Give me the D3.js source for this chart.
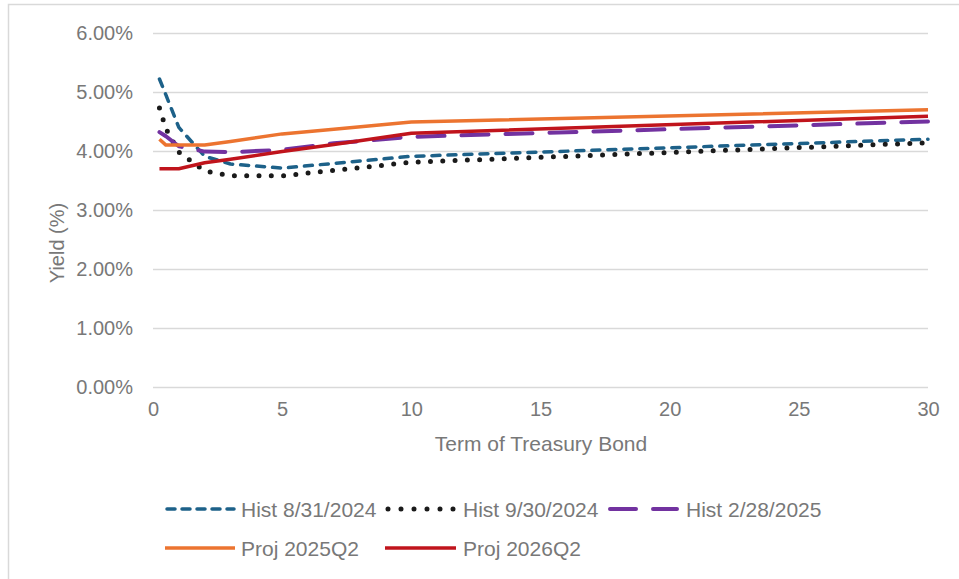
<!DOCTYPE html>
<html>
<head>
<meta charset="utf-8">
<script src="https://cdn.jsdelivr.net/npm/d3@7/dist/d3.min.js"></script>
<style>
  html, body { margin: 0; padding: 0; background: #fff; }
  svg { display: block; }
  text { font-family: "Liberation Sans", Arial, sans-serif; fill: #787878; }
</style>
</head>
<body>
<svg id="chart" width="959" height="579"></svg>
<script>
// Treasury yield curves: term in years, yield in percent
const terms = [0.25, 0.5, 1, 2, 3, 5, 7, 10, 30];
const hist20240831 = [5.22, 4.95, 4.40, 3.91, 3.78, 3.71, 3.79, 3.91, 4.20];
const hist20240930 = [4.73, 4.38, 3.98, 3.66, 3.58, 3.58, 3.67, 3.81, 4.14];
const hist20250228 = [4.32, 4.25, 4.08, 3.99, 3.98, 4.02, 4.13, 4.24, 4.50];
const proj2025Q2   = [4.20, 4.10, 4.10, 4.10, 4.16, 4.29, 4.37, 4.49, 4.70];
const proj2026Q2   = [3.70, 3.70, 3.70, 3.80, 3.86, 3.99, 4.11, 4.30, 4.59];

const seriesNames = ["Hist 8/31/2024", "Hist 9/30/2024", "Hist 2/28/2025", "Proj 2025Q2", "Proj 2026Q2"];
const yTicks = [0, 1, 2, 3, 4, 5, 6];
const xTicks = [0, 5, 10, 15, 20, 25, 30];
const xTitle = "Term of Treasury Bond";
const yTitle = "Yield (%)";

const series = [
  { name: seriesNames[0], values: hist20240831, color: "#1d6189", width: 3.5, dash: "8,8",    cap: "round" },
  { name: seriesNames[1], values: hist20240930, color: "#1a1a1a", width: 5,   dash: "0,12.3", cap: "round" },
  { name: seriesNames[2], values: hist20250228, color: "#7232a0", width: 4,   dash: "27,17",  cap: "round" },
  { name: seriesNames[3], values: proj2025Q2,   color: "#ec7430", width: 3.5, dash: null,     cap: "butt" },
  { name: seriesNames[4], values: proj2026Q2,   color: "#c0141c", width: 3.5, dash: null,     cap: "butt" }
];

const svg = d3.select("#chart");

// outer chart border
svg.append("rect")
  .attr("x", 8.5).attr("y", 4.5)
  .attr("width", 1000).attr("height", 700)
  .attr("fill", "#fff").attr("stroke", "#d9d9d9").attr("stroke-width", 1.5);

const x = d3.scaleLinear().domain([0, 30]).range([153, 928]);
const y = d3.scaleLinear().domain([0, 6]).range([387, 33]);

// horizontal gridlines
svg.append("g")
  .attr("transform", `translate(${x.range()[0]},0)`)
  .call(d3.axisLeft(y).tickValues(yTicks).tickSize(-(x.range()[1] - x.range()[0])).tickFormat(""))
  .call(g => g.select(".domain").remove())
  .call(g => g.selectAll("line").attr("stroke", "#d9d9d9").attr("stroke-width", 1.5));

// y tick labels
svg.append("g").attr("transform", `translate(${x.range()[0]},0)`)
  .call(d3.axisLeft(y).tickValues(yTicks).tickSize(0).tickPadding(20).tickFormat(d => d.toFixed(2) + "%"))
  .call(g => g.select(".domain").remove())
  .call(g => g.selectAll("text").style("font-size", "20px").attr("fill", "#787878"));

// x tick labels
svg.append("g").attr("transform", `translate(0,${y(0)})`)
  .call(d3.axisBottom(x).tickValues(xTicks).tickSize(0).tickPadding(15).tickFormat(d3.format("d")))
  .call(g => g.select(".domain").remove())
  .call(g => g.selectAll("text").style("font-size", "20px").attr("fill", "#787878"));

// axis titles
svg.append("text")
  .attr("x", 541).attr("y", 451)
  .attr("text-anchor", "middle").style("font-size", "21px")
  .text(xTitle);

svg.append("text")
  .attr("transform", `translate(64,${(y.range()[0] + y.range()[1]) / 2 + 33}) rotate(-90)`)
  .attr("text-anchor", "middle").style("font-size", "20px")
  .text(yTitle);

// curves
const line = d3.line()
  .x((d, i) => x(terms[i]))
  .y(d => y(d));

svg.append("g").selectAll("path")
  .data(series)
  .join("path")
  .attr("d", s => line(s.values))
  .attr("fill", "none")
  .attr("stroke", s => s.color)
  .attr("stroke-width", s => s.width)
  .attr("stroke-dasharray", s => s.dash)
  .attr("stroke-linecap", s => s.cap)
  .attr("stroke-linejoin", "round");

// legend: two rows, three then two entries
const legendPos = [
  { x0: 167, x1: 234, tx: 241, ty: 509 },
  { x0: 388, x1: 454, tx: 463, ty: 509 },
  { x0: 610, x1: 677, tx: 686, ty: 509 },
  { x0: 165, x1: 235, tx: 241, ty: 548 },
  { x0: 385, x1: 456, tx: 463, ty: 548 }
];
const legendDash = ["8,7", "0,13", "26,17", null, null];

const legend = svg.append("g").selectAll("g")
  .data(series)
  .join("g");

legend.append("line")
  .attr("x1", (d, i) => legendPos[i].x0)
  .attr("x2", (d, i) => legendPos[i].x1)
  .attr("y1", (d, i) => legendPos[i].ty)
  .attr("y2", (d, i) => legendPos[i].ty)
  .attr("stroke", d => d.color)
  .attr("stroke-width", d => d.width)
  .attr("stroke-dasharray", (d, i) => legendDash[i])
  .attr("stroke-linecap", d => d.cap);

legend.append("text")
  .attr("x", (d, i) => legendPos[i].tx)
  .attr("y", (d, i) => legendPos[i].ty)
  .attr("dy", "0.36em")
  .style("font-size", "21px")
  .text(d => d.name);
</script>
</body>
</html>
